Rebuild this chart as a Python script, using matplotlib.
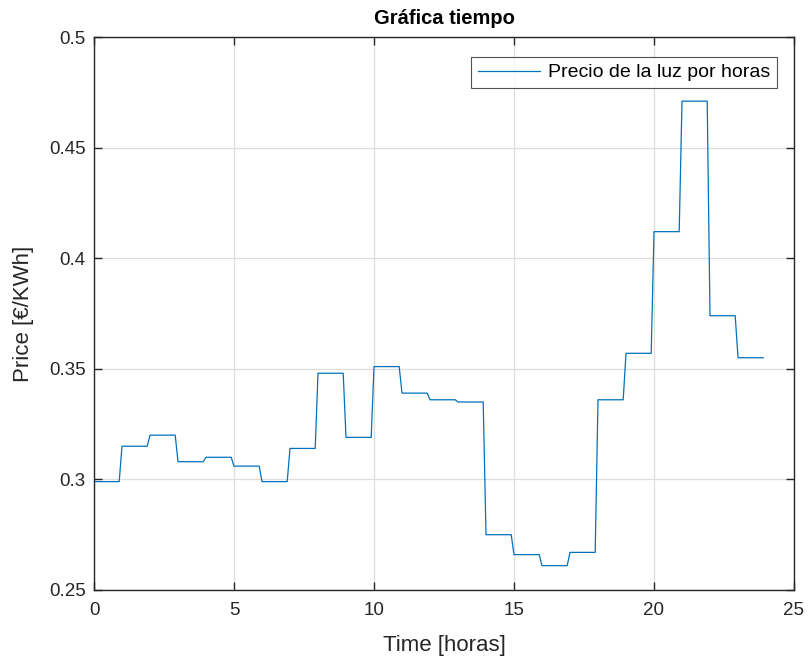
import matplotlib.pyplot as plt
import numpy as np
from matplotlib.ticker import FormatStrFormatter

plt.rcParams['font.family'] = ['Liberation Sans', 'DejaVu Sans']

# hourly electricity price (EUR/kWh), sampled every 0.1 h in the original
hours = list(range(24))
prices = [0.299, 0.315, 0.320, 0.308, 0.310, 0.306, 0.299, 0.314,
          0.348, 0.319, 0.351, 0.339, 0.336, 0.335, 0.275, 0.266,
          0.261, 0.267, 0.336, 0.357, 0.412, 0.471, 0.374, 0.355]
samples_per_hour = 10

t = np.arange(len(hours) * samples_per_hour) / samples_per_hour
p = np.repeat(prices, samples_per_hour)

fig = plt.figure(figsize=(8.08, 6.6), dpi=100)
ax = fig.add_axes([94 / 808, 70 / 660, 700 / 808, 553 / 660])

ax.plot(t, p, color='#0072BD', lw=0.9, label='Precio de la luz por horas')

ax.set_xlim(0, 25)
ax.set_ylim(0.25, 0.5)
ax.set_xticks([0, 5, 10, 15, 20, 25])
ax.set_yticks([0.25, 0.3, 0.35, 0.4, 0.45, 0.5])
ax.yaxis.set_major_formatter(FormatStrFormatter('%g'))

ax.grid(True, color='#dedede', lw=0.9)
ax.set_axisbelow(True)
for s in ax.spines.values():
    s.set_color('#262626')
    s.set_linewidth(1.0)
ax.tick_params(direction='in', length=5.5, width=1.0, colors='#262626',
               labelsize=13.5, top=True, right=True)
ax.tick_params(axis='x', pad=8.5)
ax.tick_params(axis='y', pad=6)

ax.set_title('Gráfica tiempo', fontsize=14.5, fontweight='bold', pad=9)
ax.set_xlabel('Time [horas]', fontsize=16, color='#262626', labelpad=11.5)
ax.set_ylabel('Price [€/KWh]', fontsize=16, color='#262626', labelpad=10.5)

leg = ax.legend(loc='upper right', bbox_to_anchor=(0.9757, 0.9638),
                fontsize=14, frameon=True, fancybox=False, borderaxespad=0,
                handlelength=3.2, handletextpad=0.4, borderpad=0.35)
leg.get_frame().set_edgecolor('#262626')
leg.get_frame().set_linewidth(0.8)

fig.savefig('out.png', dpi=100)
